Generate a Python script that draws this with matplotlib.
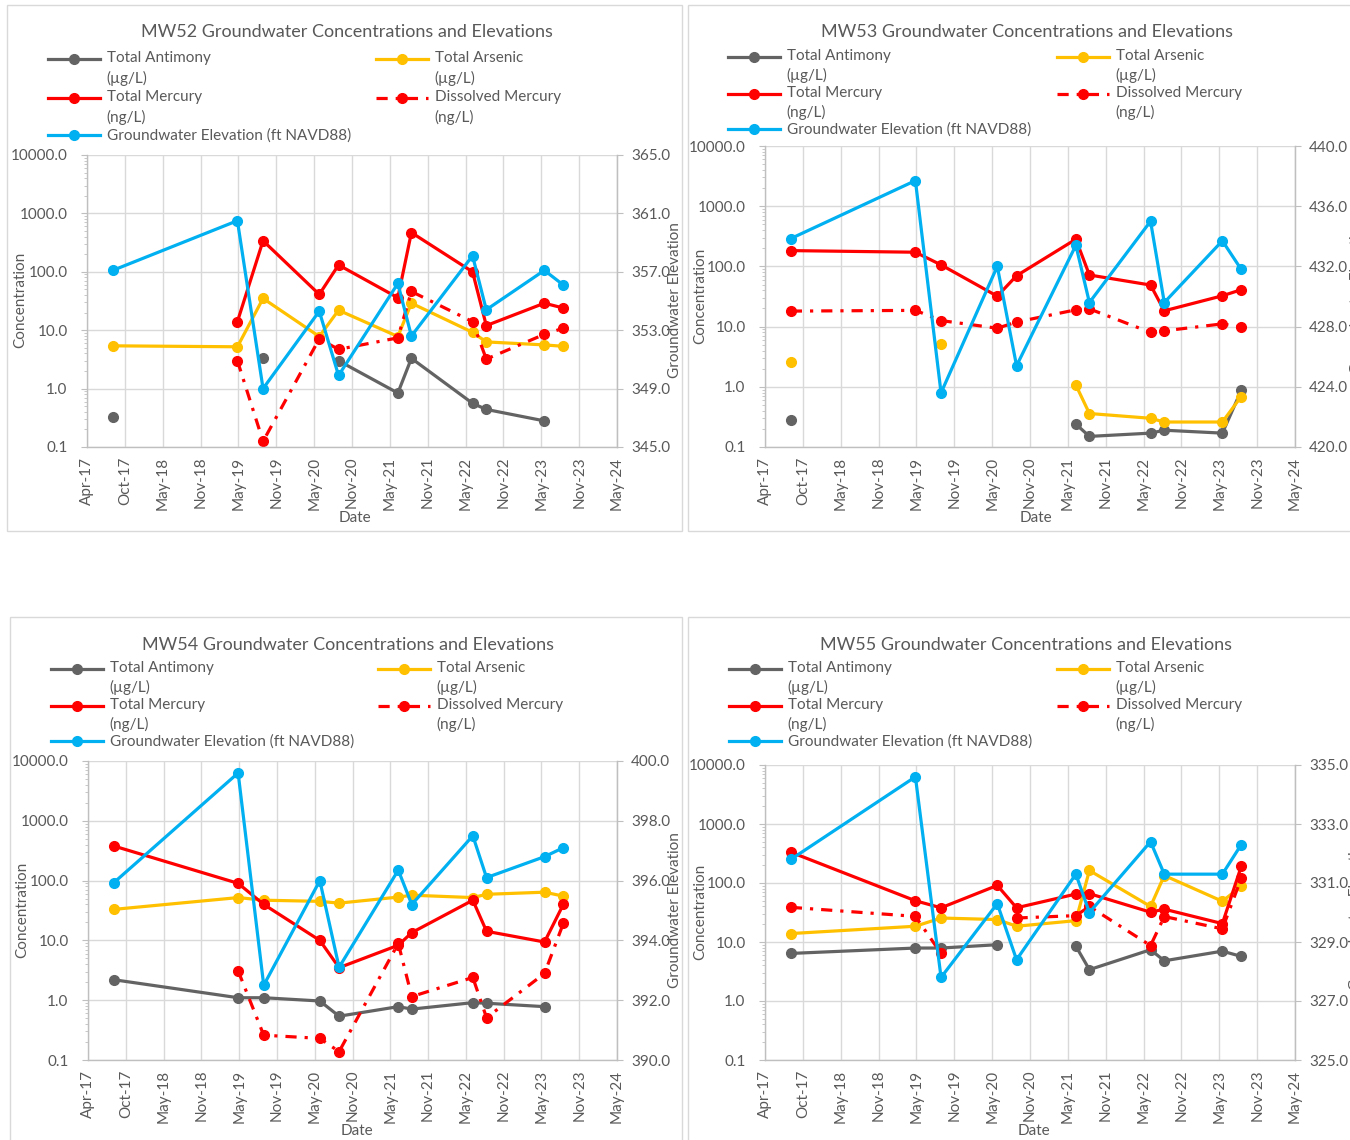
import numpy as np
import matplotlib
matplotlib.use("Agg")
import matplotlib.pyplot as plt
import matplotlib.dates as mdates
from matplotlib.patches import Rectangle
from matplotlib.legend_handler import HandlerLine2D
from matplotlib.ticker import FixedLocator, FuncFormatter, LogLocator, NullFormatter
from datetime import datetime

plt.rcParams["font.family"] = ["Lato", "DejaVu Sans"]

nan = np.nan

# Sampling events shared by the four wells
sample_dates = ["2017-09-03", "2019-05-03", "2019-09-05", "2020-06-05", "2020-09-07",
                "2021-06-23", "2021-08-28", "2022-06-22", "2022-08-28", "2023-06-07",
                "2023-09-07"]

# MW52
mw52_antimony = [0.33, nan, 3.3, nan, 3.0, 0.84, 3.3, 0.56, 0.44, 0.28, nan]
mw52_arsenic = [5.4, 5.2, 35.0, 7.8, 22.0, 7.8, 29.0, 9.2, 6.3, 5.6, 5.3]
mw52_total_hg = [nan, 14.0, 340.0, 41.0, 131.0, 36.0, 470.0, 100.0, 12.0, 29.0, 24.0]
mw52_diss_hg = [nan, 3.0, 0.125, 7.1, 4.7, 7.4, 46.0, 14.0, 3.2, 8.5, 10.8]
mw52_elev = [357.1, 360.5, 349.0, 354.3, 349.9, 356.2, 352.6, 358.1, 354.4, 357.1, 356.1]

# MW53
mw53_antimony = [0.28, nan, nan, nan, nan, 0.24, 0.15, 0.17, 0.19, 0.17, 0.87]
mw53_arsenic = [2.6, nan, 5.1, nan, nan, 1.07, 0.36, 0.30, 0.26, 0.26, 0.69]
mw53_total_hg = [183.0, 172.0, 106.0, 32.0, 70.0, 283.0, 72.0, 49.0, 18.3, 32.5, 41.0]
mw53_diss_hg = [18.1, 18.6, 12.6, 9.4, 11.9, 19.0, 19.7, 8.0, 8.5, 11.1, 9.8]
mw53_elev = [433.85, 437.7, 423.6, 432.0, 425.4, 433.4, 429.6, 435.0, 429.6, 433.7, 431.8]

# MW54
mw54_antimony = [2.2, 1.1, 1.1, 0.97, 0.54, 0.78, 0.71, 0.91, 0.89, 0.78, nan]
mw54_arsenic = [33.0, 52.0, 47.0, 45.0, 42.0, 53.0, 57.0, 52.0, 59.0, 64.0, 55.0]
mw54_total_hg = [379.0, 90.0, 40.0, 10.0, 3.5, 8.3, 13.5, 47.0, 14.2, 9.4, 40.0]
mw54_diss_hg = [nan, 3.1, 0.26, 0.23, 0.138, 8.9, 1.15, 2.4, 0.51, 2.8, 19.3]
mw54_elev = [395.93, 399.6, 392.5, 396.0, 393.1, 396.35, 395.2, 397.5, 396.1, 396.8, 397.1]

# MW55
mw55_antimony = [6.4, 7.9, 7.9, 9.0, nan, 8.5, 3.4, 7.4, 4.8, 7.0, 5.7]
mw55_arsenic = [13.9, 18.5, 25.5, 24.0, 18.5, 23.0, 163.0, 40.0, 134.0, 49.0, 88.0]
mw55_total_hg = [333.0, 50.0, 38.0, 91.0, 38.0, 65.0, 66.0, 32.0, 36.0, 20.5, 191.0]
mw55_diss_hg = [38.7, 27.2, 6.4, nan, 25.5, 28.0, 40.0, 8.7, 27.0, 16.7, 120.0]
mw55_elev = [331.8, 334.6, 327.8, 330.3, 328.4, 331.3, 330.0, 332.4, 331.3, 331.3, 332.3]

conc_ticks = [0.1, 1.0, 10.0, 100.0, 1000.0, 10000.0]

series_labels = ["Total Antimony\n(\u00b5g/L)", "Total Arsenic\n(\u00b5g/L)",
                 "Total Mercury\n(ng/L)", "Dissolved Mercury\n(ng/L)",
                 "Groundwater Elevation (ft NAVD88)"]

C_SB = "#636363"
C_AS = "#FFC000"
C_HG = "#FF0000"
C_EL = "#00B0F0"
GRID = "#D9D9D9"
AXC = "#BFBFBF"
TXT = "#595959"

W, H = 1350, 1140
fig = plt.figure(figsize=(W / 100, H / 100), dpi=100)
fig.patch.set_facecolor("white")

dates = mdates.date2num([datetime.strptime(d, "%Y-%m-%d") for d in sample_dates])
axis_start = mdates.date2num(datetime(2017, 4, 30))
major_unit = 184.5
date_ticks = [axis_start + i * major_unit for i in range(15)]

wells = [
    dict(name="MW52", sb=mw52_antimony, as_=mw52_arsenic, hg=mw52_total_hg, dhg=mw52_diss_hg,
         el=mw52_elev, el_ticks=[345, 349, 353, 357, 361, 365],
         box=(87, 155, 617, 447), frame=(7, 5, 682, 531), title=(347, 32),
         leg=(48, 376, 51), leg_ls=1.5, leg_gap=0.25,
         date_lbl=(355, 518), conc_lbl=(20, 300), el_lbl=(675, 300)),
    dict(name="MW53", sb=mw53_antimony, as_=mw53_arsenic, hg=mw53_total_hg, dhg=mw53_diss_hg,
         el=mw53_elev, el_ticks=[420, 424, 428, 432, 436, 440],
         box=(765, 146, 1295, 447), frame=(688, 5, 1360, 531), title=(1027, 32),
         leg=(728, 1057, 49), leg_ls=1.45, leg_gap=0.15,
         date_lbl=(1036, 518), conc_lbl=(700, 296), el_lbl=(1357, 296)),
    dict(name="MW54", sb=mw54_antimony, as_=mw54_arsenic, hg=mw54_total_hg, dhg=mw54_diss_hg,
         el=mw54_elev, el_ticks=[390, 392, 394, 396, 398, 400],
         box=(88, 761, 617, 1060), frame=(10, 617, 682, 1150), title=(348, 645),
         leg=(51, 378, 661), leg_ls=1.45, leg_gap=0.15,
         date_lbl=(357, 1131), conc_lbl=(22, 910), el_lbl=(675, 910)),
    dict(name="MW55", sb=mw55_antimony, as_=mw55_arsenic, hg=mw55_total_hg, dhg=mw55_diss_hg,
         el=mw55_elev, el_ticks=[325, 327, 329, 331, 333, 335],
         box=(765, 765, 1295, 1060), frame=(688, 617, 1360, 1150), title=(1026, 645),
         leg=(729, 1057, 661), leg_ls=1.45, leg_gap=0.15,
         date_lbl=(1034, 1131), conc_lbl=(700, 912), el_lbl=(1356, 912)),
]

LW = 2.3
MS = 7
FS = 11
DASH = (3.5, 2.5, 1.0, 2.5)


class RaisedLine(HandlerLine2D):
    """Legend key placed level with the first line of a two-line label."""

    def __init__(self, lift, **kw):
        super().__init__(**kw)
        self.lift = lift

    def create_artists(self, *args, **kwargs):
        arts = super().create_artists(*args, **kwargs)
        for a in arts:
            a.set_ydata(np.asarray(a.get_ydata(), dtype=float) + self.lift)
        return arts


def fx(px):
    return px / W


def fy(py):
    return 1 - py / H


for w in wells:
    x0, y0, x1, y1 = w["box"]
    fl, ft, fr, fb = w["frame"]
    fig.patches.append(Rectangle((fx(fl), fy(fb)), fx(fr - fl), (fb - ft) / H,
                                 transform=fig.transFigure, facecolor="none",
                                 edgecolor="#D9D9D9", lw=1.0, zorder=0))

    ax = fig.add_axes([fx(x0), fy(y1), fx(x1 - x0), (y1 - y0) / H])
    ax.set_yscale("log")
    ax.set_ylim(0.1, 10000)
    ax.set_xlim(date_ticks[0], date_ticks[-1])

    l_sb, = ax.plot(dates, w["sb"], color=C_SB, lw=LW, marker="o", ms=MS)
    l_as, = ax.plot(dates, w["as_"], color=C_AS, lw=LW, marker="o", ms=MS)
    l_hg, = ax.plot(dates, w["hg"], color=C_HG, lw=LW, marker="o", ms=MS)
    l_dhg, = ax.plot(dates, w["dhg"], color=C_HG, lw=LW, marker="o", ms=MS,
                     dashes=DASH)

    ax.yaxis.set_major_locator(FixedLocator(conc_ticks))
    ax.yaxis.set_major_formatter(FuncFormatter(lambda v, p: f"{v:.1f}"))
    ax.yaxis.set_minor_locator(LogLocator(base=10, subs=np.arange(2, 10)))
    ax.yaxis.set_minor_formatter(NullFormatter())
    ax.xaxis.set_major_locator(FixedLocator(date_ticks))
    ax.xaxis.set_major_formatter(mdates.DateFormatter("%b-%y"))
    ax.tick_params(axis="x", which="major", length=0, pad=7, labelsize=FS,
                   labelcolor=TXT, labelrotation=90)
    ax.tick_params(axis="y", which="major", length=4, color=AXC, pad=10,
                   labelsize=FS, labelcolor=TXT)
    ax.tick_params(axis="y", which="minor", length=2.5, color=AXC)
    ax.grid(True, which="major", color=GRID, lw=1.0)
    ax.set_axisbelow(True)
    ax.spines["top"].set_visible(False)
    for s in ["left", "bottom", "right"]:
        ax.spines[s].set_color(AXC)
        ax.spines[s].set_linewidth(1.0)

    ax2 = ax.twinx()
    ax2.set_ylim(w["el_ticks"][0], w["el_ticks"][-1])
    l_el, = ax2.plot(dates, w["el"], color=C_EL, lw=LW, marker="o", ms=MS)
    ax2.yaxis.set_major_locator(FixedLocator(w["el_ticks"]))
    ax2.yaxis.set_major_formatter(FuncFormatter(lambda v, p: f"{v:.1f}"))
    ax2.tick_params(axis="y", length=4, color=AXC, pad=6, labelsize=FS, labelcolor=TXT)
    for s in ["top", "left", "bottom"]:
        ax2.spines[s].set_visible(False)
    ax2.spines["right"].set_color(AXC)
    ax2.set_xlim(date_ticks[0], date_ticks[-1])

    fig.text(fx(w["title"][0]), fy(w["title"][1]),
             f"{w['name']} Groundwater Concentrations and Elevations",
             ha="center", va="center", fontsize=13, color=TXT)
    fig.text(fx(w["date_lbl"][0]), fy(w["date_lbl"][1]), "Date",
             ha="center", va="center", fontsize=FS, color=TXT)
    fig.text(fx(w["conc_lbl"][0]), fy(w["conc_lbl"][1]), "Concentration",
             ha="center", va="center", rotation=90, fontsize=FS, color=TXT)
    fig.text(fx(w["el_lbl"][0]), fy(w["el_lbl"][1]), "Groundwater Elevation",
             ha="center", va="center", rotation=90, fontsize=FS, color=TXT)

    lift = 0.5 * w["leg_ls"] * 9.4
    common = dict(loc="upper left", frameon=False, borderpad=0, borderaxespad=0,
                  handlelength=3.4, handletextpad=0.45, labelspacing=w["leg_gap"],
                  numpoints=1, fontsize=FS, labelcolor=TXT, bbox_transform=fig.transFigure)
    lx1, lx2, ltop = w["leg"]
    leg1 = ax2.legend([l_sb, l_hg, l_el], [series_labels[0], series_labels[2], series_labels[4]],
                      bbox_to_anchor=(fx(lx1), fy(ltop)),
                      handler_map={l_sb: RaisedLine(lift), l_hg: RaisedLine(lift)}, **common)
    for t in leg1.get_texts():
        t.set_linespacing(w["leg_ls"])
    ax2.add_artist(leg1)
    leg2 = ax2.legend([l_as, l_dhg], [series_labels[1], series_labels[3]],
                      bbox_to_anchor=(fx(lx2), fy(ltop)),
                      handler_map={l_as: RaisedLine(lift), l_dhg: RaisedLine(lift)}, **common)
    for t in leg2.get_texts():
        t.set_linespacing(w["leg_ls"])

fig.savefig("out.png", dpi=100, facecolor="white")
